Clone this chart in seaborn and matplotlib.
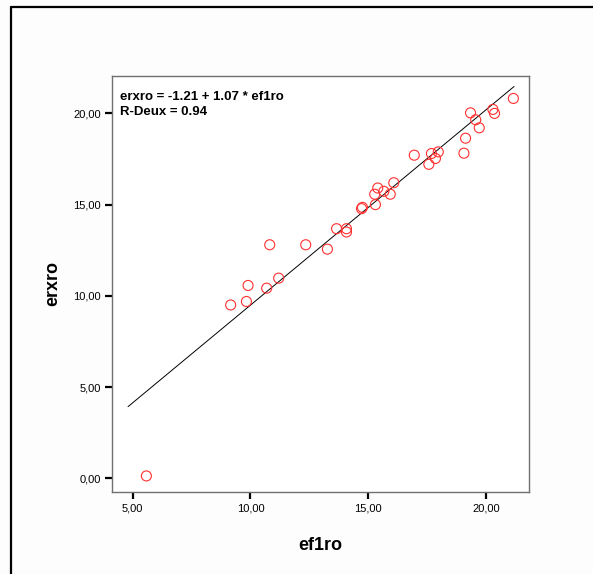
import matplotlib
matplotlib.use("Agg")
import matplotlib.pyplot as plt
from matplotlib.lines import Line2D
import numpy as np
import pandas as pd
import seaborn as sns

# Data
ef1ro = [5.58, 9.16, 9.90, 9.83, 10.69, 11.20, 10.82, 12.35, 13.27, 13.66,
         14.08, 14.08, 14.72, 14.76, 15.31, 15.28, 15.41, 15.67, 15.94, 16.09,
         16.96, 17.58, 17.69, 17.86, 17.98, 19.07, 19.14, 19.35, 19.57, 19.72,
         20.30, 20.37, 21.17]
erxro = [0.13, 9.50, 10.57, 9.69, 10.42, 10.97, 12.80, 12.80, 12.56, 13.68,
         13.68, 13.50, 14.78, 14.85, 15.00, 15.57, 15.91, 15.73, 15.57, 16.20,
         17.71, 17.21, 17.80, 17.53, 17.89, 17.82, 18.64, 20.03, 19.65, 19.21,
         20.22, 20.00, 20.82]

fit_intercept = -1.21
fit_slope = 1.07
r_squared = 0.94
fit_x_range = [4.8, 21.2]

x_ticks = [5, 10, 15, 20]
y_ticks = [0, 5, 10, 15, 20]
x_tick_labels = ["5,00", "10,00", "15,00", "20,00"]
y_tick_labels = ["0,00", "5,00", "10,00", "15,00", "20,00"]

sns.set_theme(style="white")
plt.rcParams['font.family'] = ['Liberation Sans', 'DejaVu Sans']
plt.rcParams['text.color'] = 'black'
plt.rcParams['axes.labelcolor'] = 'black'

fig = plt.figure(figsize=(5.93, 5.74), dpi=100, facecolor="#fdfdfd")
ax = fig.add_axes([0.1889, 0.1429, 0.703, 0.7247])
ax.set_facecolor("white")

df = pd.DataFrame({"ef1ro": ef1ro, "erxro": erxro})
fit_df = pd.DataFrame({"x": fit_x_range,
                       "y": [fit_intercept + fit_slope * v for v in fit_x_range]})

sns.lineplot(data=fit_df, x="x", y="y", ax=ax, color="black", linewidth=0.7)
sns.scatterplot(data=df, x="ef1ro", y="erxro", ax=ax, s=52, marker="o",
                facecolor="none", edgecolor="#ff3030", linewidth=0.8, zorder=3)

ax.set_xlim(4.12, 21.83)
ax.set_ylim(-0.75, 22.05)
ax.set_xticks(x_ticks)
ax.set_xticklabels(x_tick_labels)
ax.set_yticks(y_ticks)
ax.set_yticklabels(y_tick_labels)
ax.tick_params(axis="both", which="major", direction="out", length=5, width=1.6,
               color="black", labelsize=8, pad=3, bottom=True, left=True,
               labelcolor="black")
for sp in ax.spines.values():
    sp.set_color("#707070")
    sp.set_linewidth(1.0)

ax.set_xlabel("ef1ro", fontsize=13, fontweight="bold", labelpad=17, color="black")
ax.set_ylabel("erxro", fontsize=13, fontweight="bold", labelpad=9, color="black")

ax.text(0.018, 0.965,
        f"erxro = {fit_intercept:.2f} + {fit_slope:.2f} * ef1ro\nR-Deux = {r_squared:.2f}",
        transform=ax.transAxes, ha="left", va="top", fontsize=9.5,
        fontweight="bold", linespacing=1.4, color="black")

# Outer frame (left and top edges)
fig.add_artist(Line2D([11/593, 11/593], [0, 1 - 7/574], transform=fig.transFigure,
                      color="black", linewidth=1.6))
fig.add_artist(Line2D([11/593, 1], [1 - 7/574, 1 - 7/574], transform=fig.transFigure,
                      color="black", linewidth=1.6))

fig.savefig("out.png", dpi=100, facecolor=fig.get_facecolor())
